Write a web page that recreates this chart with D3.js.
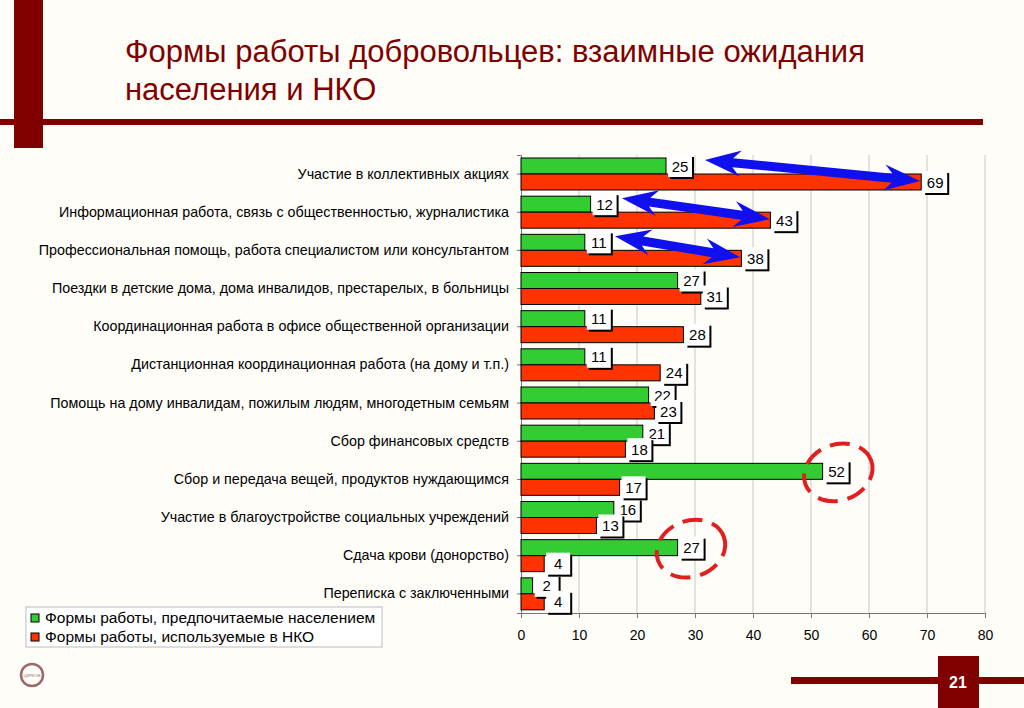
<!DOCTYPE html>
<html>
<head>
<meta charset="utf-8">
<script src="https://cdn.jsdelivr.net/npm/d3@7"></script>
<style>
  body { margin: 0; background: #fffdf8; }
  svg { display: block; font-family: "Liberation Sans", Arial, sans-serif; }
</style>
</head>
<body>
<svg id="chart" width="1024" height="708"></svg>
<script>
const categories = [
    "Участие в коллективных акциях",
    "Информационная работа, связь с общественностью, журналистика",
    "Профессиональная помощь, работа специалистом или консультантом",
    "Поездки в детские дома, дома инвалидов, престарелых, в больницы",
    "Координационная работа в офисе общественной организации",
    "Дистанционная координационная работа (на дому и т.п.)",
    "Помощь на дому инвалидам, пожилым людям, многодетным семьям",
    "Сбор финансовых средств",
    "Сбор и передача вещей, продуктов нуждающимся",
    "Участие в благоустройстве социальных учреждений",
    "Сдача крови (донорство)",
    "Переписка с заключенными"
];
const population = [25, 12, 11, 27, 11, 11, 22, 21, 52, 16, 27, 2];
const nko = [69, 43, 38, 31, 28, 24, 23, 18, 17, 13, 4, 4];
const seriesNames = ["Формы работы, предпочитаемые населением", "Формы работы, используемые в НКО"];
const xTicks = [0, 10, 20, 30, 40, 50, 60, 70, 80];
// blue arrows: [row, from value (near green label), to value (red bar end)]
const arrows = [[0, 31.7, 68.8], [1, 17.4, 42.9], [2, 16.2, 37.8]];
// red dashed circles: [row, centre value]
const highlights = [[8, 54.7], [10, 29.3]];

const svg = d3.select("#chart");
const dark = "#800000";

// slide decoration
svg.append("rect").attr("x", 14).attr("y", 0).attr("width", 29).attr("height", 148).attr("fill", dark);
svg.append("rect").attr("x", 0).attr("y", 119).attr("width", 983).attr("height", 6).attr("fill", dark);
svg.append("text").attr("x", 125).attr("y", 62).attr("font-size", 31).attr("fill", dark)
    .text("Формы работы добровольцев: взаимные ожидания");
svg.append("text").attr("x", 125).attr("y", 100).attr("font-size", 31).attr("fill", dark)
    .text("населения и НКО");

svg.append("rect").attr("x", 791).attr("y", 677).attr("width", 233).attr("height", 7).attr("fill", dark);
svg.append("rect").attr("x", 938).attr("y", 656).attr("width", 41).attr("height", 52).attr("fill", dark);
svg.append("text").attr("x", 958).attr("y", 688).attr("text-anchor", "middle").attr("font-size", 16)
    .attr("font-weight", "bold").attr("fill", "#fff").text("21");

// small logo
svg.append("circle").attr("cx", 32).attr("cy", 675).attr("r", 11).attr("fill", "none")
    .attr("stroke", "#9a6a6a").attr("stroke-width", 2.5);
svg.append("text").attr("x", 32).attr("y", 677).attr("text-anchor", "middle").attr("font-size", 4)
    .attr("fill", "#9a6a6a").text("ЦИРКОН");

const x = d3.scaleLinear().domain([0, 80]).range([521, 985]);
const y = d3.scaleBand().domain(d3.range(categories.length)).range([155, 613]);
const barH = 16, pad = 3;

const g = svg.append("g");

// grid
g.selectAll(".grid").data(xTicks.slice(1)).join("line")
    .attr("x1", d => x(d)).attr("x2", d => x(d)).attr("y1", 155).attr("y2", 613)
    .attr("stroke", "#c8c8c8").attr("stroke-width", 1);

// axis
const xAxis = g.append("g").attr("transform", "translate(0,613)")
    .call(d3.axisBottom(x).tickValues(xTicks).tickSize(5).tickPadding(12));
xAxis.select(".domain").attr("stroke", "#777");
xAxis.selectAll(".tick line").attr("stroke", "#777");
xAxis.selectAll("text").attr("font-size", 14).attr("fill", "#000").attr("font-family", "Liberation Sans, Arial, sans-serif");

const yAxis = g.append("g").attr("transform", "translate(521,0)")
    .call(d3.axisLeft(y).tickSize(4).tickPadding(8).tickFormat(i => categories[i]));
yAxis.select(".domain").attr("stroke", "#777");
yAxis.selectAll(".tick line").attr("stroke", "#777");
yAxis.selectAll("text").attr("font-size", 14.3).attr("fill", "#000")
    .attr("font-family", "Liberation Sans, Arial, sans-serif");

// bars
const series = [
    { vals: population, color: "#33cc33", off: pad },
    { vals: nko, color: "#ff3300", off: pad + barH }
];
series.forEach(s => {
    g.append("g").selectAll("rect").data(s.vals).join("rect")
        .attr("x", x(0))
        .attr("y", (d, i) => y(i) + s.off)
        .attr("width", d => x(d) - x(0))
        .attr("height", barH)
        .attr("fill", s.color)
        .attr("stroke", "#000").attr("stroke-width", 1);
});

// arrows
function dblArrow(x1, y1, x2, y2) {
    const dx = x2 - x1, dy = y2 - y1, L = Math.hypot(dx, dy);
    const hl = 36, sw = 4.5, hw = 13;
    const pts = [
        [0, 0], [hl, -hw], [hl - 8, -sw], [L - hl + 8, -sw], [L - hl, -hw], [L, 0],
        [L - hl, hw], [L - hl + 8, sw], [hl - 8, sw], [hl, hw]
    ];
    const a = Math.atan2(dy, dx), c = Math.cos(a), s = Math.sin(a);
    return "M" + pts.map(p => [x1 + p[0] * c - p[1] * s, y1 + p[0] * s + p[1] * c].join(",")).join("L") + "Z";
}
g.append("g").selectAll("path").data(arrows).join("path")
    .attr("d", d => dblArrow(x(d[1]), y(d[0]) + 5, x(d[2]), y(d[0]) + pad + barH + barH / 2 - 1))
    .attr("fill", "#1010ee");

// value labels
function labels(vals, off) {
    const lg = g.append("g").selectAll("g").data(vals).join("g")
        .attr("transform", (d, i) => `translate(${x(d) + 2},${y(i) + off + barH / 2 - 11})`);
    lg.append("rect").attr("x", 2).attr("y", 2).attr("width", 24).attr("height", 22).attr("fill", "#000");
    lg.append("rect").attr("width", 24).attr("height", 22).attr("fill", "#fff");
    lg.append("text").attr("x", 12).attr("y", 16.5).attr("text-anchor", "middle").attr("font-size", 15)
        .text(d => d);
}
labels(population, pad);
labels(nko, pad + barH);

// dashed highlight circles
g.append("g").selectAll("ellipse").data(highlights).join("ellipse")
    .attr("cx", d => x(d[1])).attr("cy", d => y(d[0]) + 12)
    .attr("rx", 35).attr("ry", 28)
    .attr("transform", d => `rotate(-20,${x(d[1])},${y(d[0]) + 12})`)
    .attr("fill", "none").attr("stroke", "#e02020").attr("stroke-width", 4)
    .attr("stroke-dasharray", "20,10");

// legend
const leg = svg.append("g").attr("transform", "translate(26,607)");
leg.append("rect").attr("width", 356).attr("height", 40).attr("fill", "#fff").attr("stroke", "#bbb");
seriesNames.forEach((n, i) => {
    leg.append("rect").attr("x", 5).attr("y", 7 + i * 19).attr("width", 8).attr("height", 8)
        .attr("fill", series[i].color).attr("stroke", "#000");
    leg.append("text").attr("x", 19).attr("y", 16 + i * 19).attr("font-size", 15.5).text(n);
});
</script>
</body>
</html>
